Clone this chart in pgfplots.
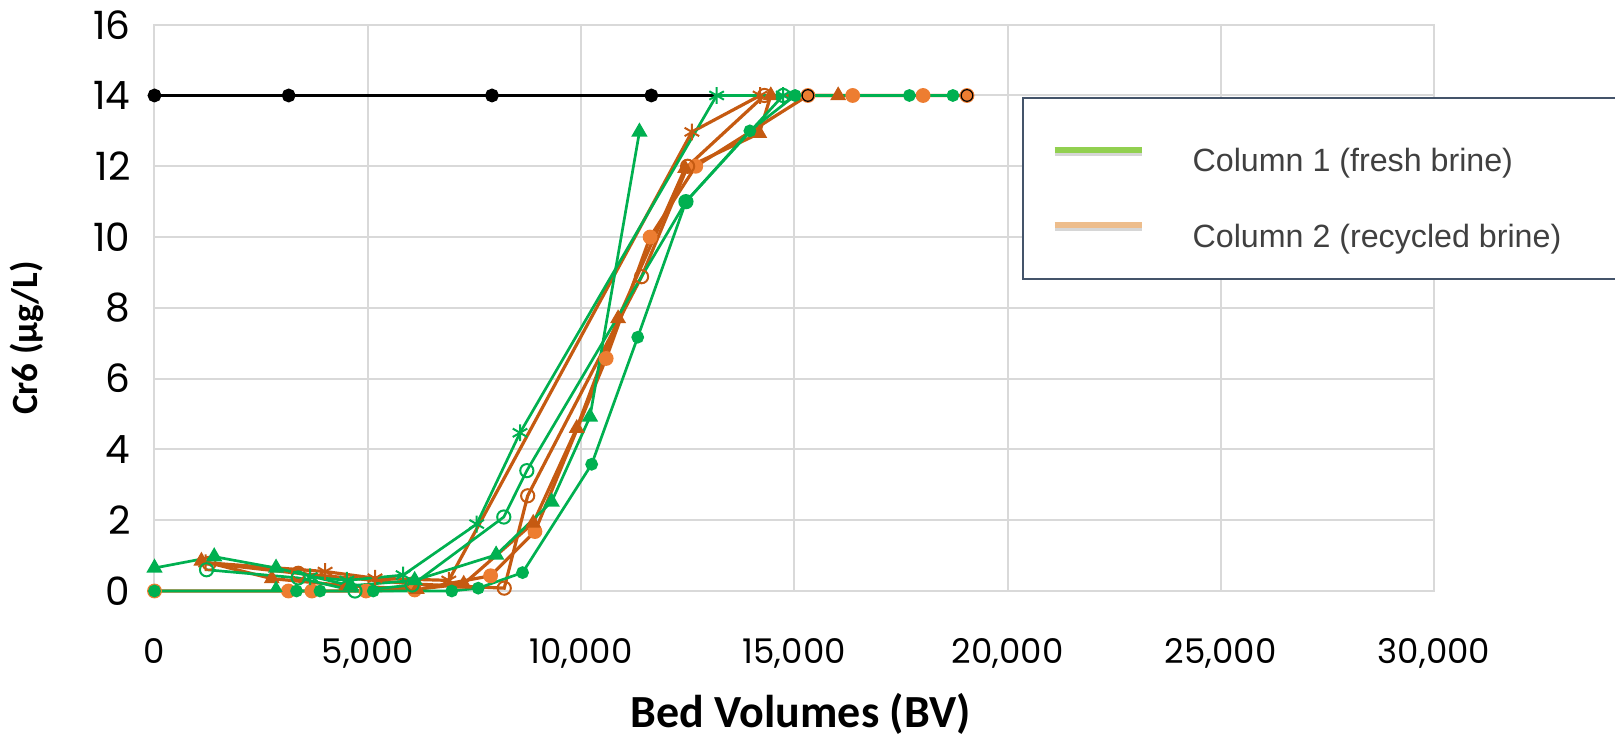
\documentclass[border=0pt]{standalone}
\usepackage{fontspec}
\setmainfont{Poppins}[Numbers=Monospaced]
\newfontfamily\labfont{Carlito}
\newfontfamily\legfont{Liberation Sans}
\usepackage{pgfplots}
\pgfplotsset{compat=1.18}
\definecolor{cgreen}{HTML}{00B050}
\definecolor{corange}{HTML}{C55A11}
\definecolor{clorange}{HTML}{ED7D31}
\definecolor{gridgray}{HTML}{D9D9D9}
\definecolor{leggreen}{HTML}{92D050}
\definecolor{legorange}{HTML}{EDBD8C}
\definecolor{legframe}{HTML}{44546A}
\definecolor{legtext}{HTML}{404040}

\begin{document}
\begin{tikzpicture}
\begin{axis}[
    scale only axis,
    width=639.75pt, height=283.15pt,
    xmin=0, xmax=30000, ymin=0, ymax=16,
    xtick={0,5000,...,30000}, ytick={0,2,...,16},
    scaled x ticks=false,
    clip=false,
    grid=major,
    major grid style={gridgray, line width=1pt},
    axis line style={gridgray, line width=1pt},
    tick style={draw=none},
    /pgf/number format/fixed,
    /pgf/number format/1000 sep={,},
    /pgf/number format/assume math mode=true,
    xticklabel style={font=\fontsize{17}{20}\selectfont, yshift=-20pt},
    yticklabel style={font=\fontsize{19.5}{22}\selectfont, xshift=-8.5pt},
    xlabel={\labfont\bfseries Bed Volumes (BV)},
    ylabel={\labfont\bfseries Cr6 (µg/L)},
    x label style={at={(axis description cs:0.505,-0.217)}, anchor=center, font=\fontsize{23}{27}\selectfont},
    y label style={at={(axis description cs:-0.0997,0.447)}, anchor=center, font=\fontsize{18.5}{22}\selectfont},
    every axis plot/.append style={forget plot},
    legend style={at={(axis description cs:0.679,0.8706)}, anchor=north west, yshift=-6pt,
        draw=none, fill=none,
        font=\legfont\fontsize{16.1}{19}\selectfont, text=legtext,
        inner xsep=14pt, inner ysep=17pt, row sep=20.5pt, column sep=22pt,
        cells={anchor=west}},
    legend image code/.code={
        \draw[gray!45, line width=3pt, opacity=0.7] (0pt,4.5pt) -- (43.5pt,4.5pt);
        \draw[#1, line width=3pt] (0pt,6pt) -- (43.5pt,6pt);
    },
]
% influent
\addplot[black, line width=1.3pt, mark=*, mark size=2.8pt, mark indices={1,2,3,4}]
  coordinates {(0,14)(3146,14)(7913,14)(11650,14)(15320,14)(19050,14)};

% column 2 (recycled brine)
\addplot[corange, line width=1.6pt, mark=*, mark size=2.9pt, mark options={fill=clorange, draw=clorange}]
  coordinates {(0,0)(3140,0)(3690,0)(4960,0)(6100,0.03)(7880,0.43)(8920,1.68)(10590,6.57)(11620,10.0)(12690,12.0)(15320,14)(16370,14)(18020,14)(19050,14)};
\addplot[corange, line width=1.6pt, mark=o, mark size=3.3pt, mark options={line width=1pt}]
  coordinates {(1280,0.78)(3370,0.5)(6060,0.2)(8200,0.08)(8750,2.69)(11420,8.88)(12500,12.0)(14300,14)};
\addplot[corange, line width=1.6pt, mark=asterisk, mark size=4.2pt, mark options={line width=1pt}]
  coordinates {(1200,0.8)(4000,0.55)(5170,0.36)(6900,0.3)(12600,12.97)(14200,14)};
\addplot[corange, line width=1.6pt, mark=triangle*, mark size=3pt]
  coordinates {(1100,0.85)(2750,0.35)(4500,0.15)(6150,0.05)(7250,0.2)(8880,1.92)(9900,4.6)(10870,7.7)(12440,11.94)(14180,12.93)(14450,14)(16030,14)};

% column 1 (fresh brine)
\addplot[cgreen, line width=1.35pt, mark=*, mark size=2.5pt]
  coordinates {(0,0)(3330,0)(3880,0)(5130,0)(6970,0)(7590,0.08)(8630,0.52)(10250,3.58)(11330,7.17)(12460,11.0)(13960,13.0)(15020,14)(17700,14)(18720,14)};
\addplot[cgreen, line width=1.35pt, mark=o, mark size=3.3pt, mark options={line width=1pt}]
  coordinates {(1220,0.6)(3370,0.37)(4700,0)(6040,0.17)(8190,2.09)(8730,3.4)(12460,11.0)(14740,14)};
\addplot[cgreen, line width=1.35pt, mark=asterisk, mark size=4.2pt, mark options={line width=1pt}]
  coordinates {(3650,0.4)(4510,0.3)(5830,0.45)(7555,1.89)(8570,4.47)(13180,14)(14740,14)};
\addplot[cgreen, line width=1.35pt, mark=triangle*, mark size=3.4pt]
  coordinates {(0,0.65)(1400,0.97)(2850,0.65)(4600,0.15)(6100,0.3)(8010,1.02)(9310,2.52)(10210,4.92)(11370,12.97)};
\addplot[cgreen, only marks, mark=triangle*, mark size=3.4pt]
  coordinates {(2850,0.08)};

% markers on the plateau
\addplot[only marks, mark=*, mark size=2.9pt, mark options={fill=clorange, draw=clorange}]
  coordinates {(16370,14)(18020,14)};
\addplot[only marks, mark=*, mark size=2.9pt, mark options={fill=clorange, draw=black, line width=0.6pt}]
  coordinates {(15320,14)(19050,14)};

% legend frame
\draw[legframe, line width=0.8pt, fill=white]
  (rel axis cs:0.679,0.8706) rectangle (rel axis cs:1.2,0.551);

\addlegendimage{leggreen}
\addlegendentry{\makebox[205pt][l]{Column 1 (fresh brine)}}
\addlegendimage{legorange}
\addlegendentry{\makebox[205pt][l]{Column 2 (recycled brine)}}
\end{axis}
\pgfresetboundingbox
\useasboundingbox (-77.25pt,-73.5pt) rectangle (730.25pt,295.5pt);
\end{tikzpicture}
\end{document}
